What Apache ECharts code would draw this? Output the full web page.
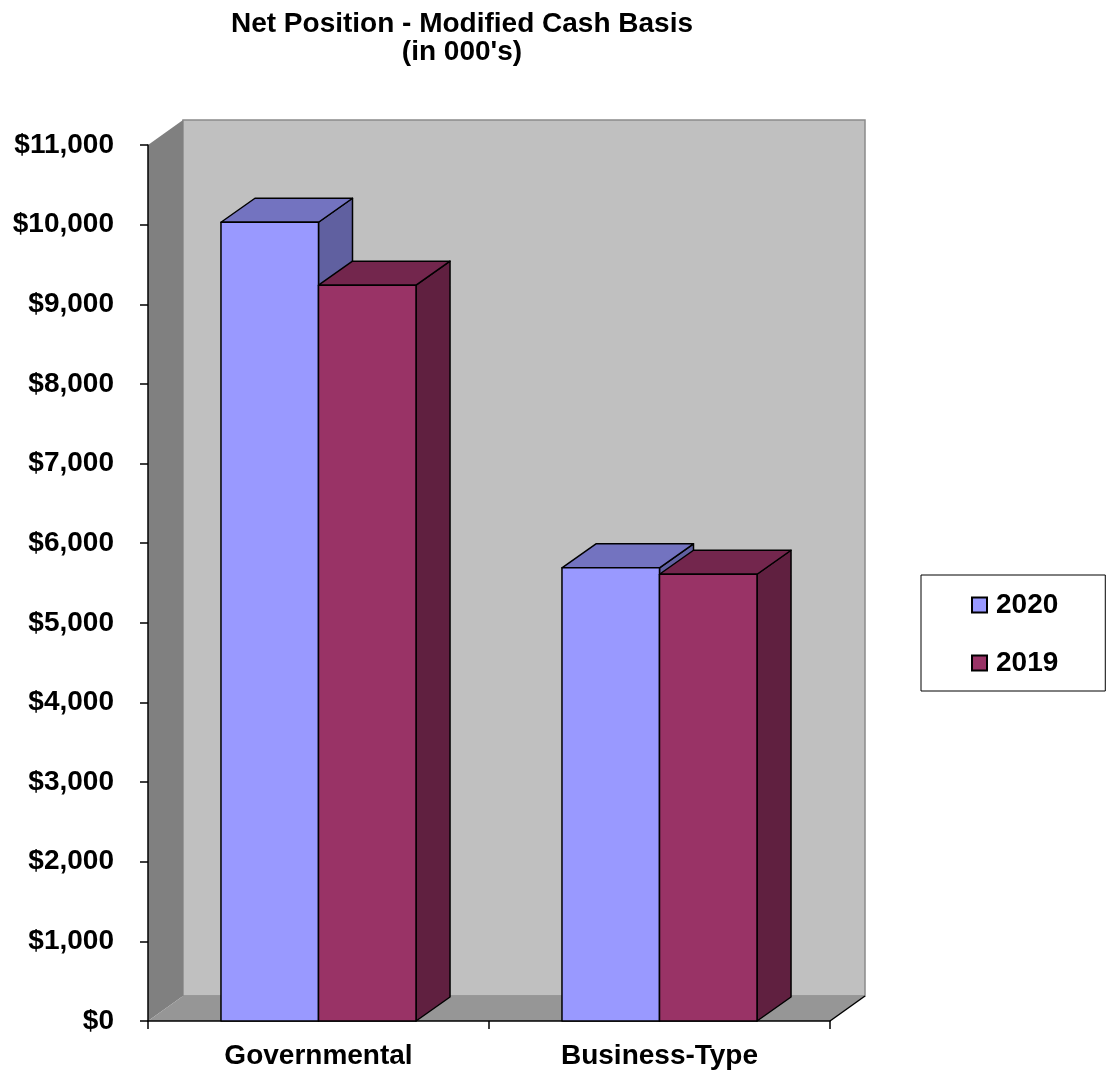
<!DOCTYPE html>
<html>
<head>
<meta charset="utf-8">
<script src="https://cdn.jsdelivr.net/npm/echarts@6/dist/echarts.min.js"></script>
<style>
html,body{margin:0;padding:0;background:#fff;}
#chart{width:1107px;height:1072px;}
</style>
</head>
<body>
<div id="chart"></div>
<script>
var categories = ['Governmental', 'Business-Type'];
var values2020 = [10030, 5690];
var values2019 = [9240, 5610];
var seriesNames = ['2020', '2019'];
var yTickLabels = ['$0','$1,000','$2,000','$3,000','$4,000','$5,000','$6,000','$7,000','$8,000','$9,000','$10,000','$11,000'];

var FONT = '"Liberation Sans", Arial, sans-serif';
var WALL_DX = 35, WALL_DY = -25;
var BAR_DX = 34, BAR_DY = -24;
var BAR_RATIO = 0.286;

var colors = {
  '2020': {front: '#9999FF', top: '#7373C0', side: '#6060A0'},
  '2019': {front: '#993366', top: '#73264D', side: '#602040'}
};

function makeBarRender(slot, c) {
  return function (params, api) {
    var cat = api.value(0), val = api.value(1);
    var t = api.coord([cat, val]);
    var b = api.coord([cat, 0]);
    var bw = api.size([1, 0])[0] * BAR_RATIO;
    var x0 = t[0] + (slot - 1) * bw;
    var x1 = x0 + bw;
    var yt = t[1], yb = b[1];
    var st = {stroke: '#000', lineWidth: 1.5, lineJoin: 'round'};
    return {
      type: 'group',
      children: [
        {type: 'polygon', shape: {points: [[x1, yt], [x1 + BAR_DX, yt + BAR_DY], [x1 + BAR_DX, yb + BAR_DY], [x1, yb]]},
          style: Object.assign({fill: c.side}, st)},
        {type: 'polygon', shape: {points: [[x0, yt], [x0 + BAR_DX, yt + BAR_DY], [x1 + BAR_DX, yt + BAR_DY], [x1, yt]]},
          style: Object.assign({fill: c.top}, st)},
        {type: 'rect', shape: {x: x0, y: yt, width: bw, height: yb - yt},
          style: Object.assign({fill: c.front}, st)}
      ]
    };
  };
}

function renderWalls(params, api) {
  var cs = params.coordSys;
  var L = cs.x, T = cs.y, R = cs.x + cs.width, B = cs.y + cs.height;
  return {
    type: 'group',
    children: [
      {type: 'polygon', shape: {points: [[L + WALL_DX, T + WALL_DY], [R + WALL_DX, T + WALL_DY], [R + WALL_DX, B + WALL_DY], [L + WALL_DX, B + WALL_DY]]},
        style: {fill: '#C0C0C0', stroke: '#8a8a8a', lineWidth: 1.5}},
      {type: 'polygon', shape: {points: [[L, T], [L + WALL_DX, T + WALL_DY], [L + WALL_DX, B + WALL_DY], [L, B]]},
        style: {fill: '#808080'}},
      {type: 'polygon', shape: {points: [[L, B], [L + WALL_DX, B + WALL_DY], [R + WALL_DX, B + WALL_DY], [R, B]]},
        style: {fill: '#969696'}},
      {type: 'polyline', shape: {points: [[R, B], [R + WALL_DX, B + WALL_DY]]},
        style: {stroke: '#000', lineWidth: 1.5}}
    ]
  };
}

var chart = echarts.init(document.getElementById('chart'), null, {renderer: 'canvas'});
chart.setOption({
  backgroundColor: '#ffffff',
  animation: false,
  textStyle: {fontFamily: FONT},
  graphic: [{
    type: 'text', x: 462, y: 10, z: 10,
    style: {
      text: 'Net Position - Modified Cash Basis\n(in 000\'s)',
      align: 'center', verticalAlign: 'top',
      font: 'bold 28px ' + FONT, lineHeight: 28, fill: '#000'
    }
  }],
  legend: {
    orient: 'vertical', left: 921, top: 575,
    padding: [16, 47, 14, 50], itemGap: 30,
    itemWidth: 15, itemHeight: 15, icon: 'rect',
    borderColor: '#000', borderWidth: 1, backgroundColor: '#fff',
    data: seriesNames,
    itemStyle: {borderColor: '#000', borderWidth: 2},
    textStyle: {fontSize: 28, fontWeight: 'bold', color: '#000', fontFamily: FONT, lineHeight: 28, padding: [0, 0, 0, 4]}
  },
  grid: {left: 148, top: 145, width: 682, height: 876, containLabel: false},
  xAxis: {
    type: 'category', data: categories, boundaryGap: true,
    axisLine: {lineStyle: {color: '#000', width: 1.5}},
    axisTick: {show: true, length: 8, interval: 0, lineStyle: {color: '#000', width: 1.5}},
    axisLabel: {fontSize: 28, fontWeight: 'bold', color: '#000', margin: 21, fontFamily: FONT},
    splitLine: {show: false}
  },
  yAxis: {
    type: 'value', min: 0, max: 11000, interval: 1000,
    axisLine: {show: true, lineStyle: {color: '#000', width: 1.5}},
    axisTick: {show: true, length: 8, lineStyle: {color: '#000', width: 1.5}},
    axisLabel: {fontSize: 28, fontWeight: 'bold', color: '#000', margin: 34, fontFamily: FONT,
      formatter: function (v) { return yTickLabels[Math.round(v / 1000)]; }},
    splitLine: {show: false}
  },
  series: [
    {type: 'custom', name: 'walls', z: -1, silent: true, clip: false,
      renderItem: renderWalls, data: [[0, 0]], encode: {x: 0, y: 1}},
    {type: 'custom', name: '2020', z: 2, clip: false,
      itemStyle: {color: colors['2020'].front},
      renderItem: makeBarRender(0, colors['2020']),
      data: values2020.map(function (v, i) { return [i, v]; }), encode: {x: 0, y: 1}},
    {type: 'custom', name: '2019', z: 3, clip: false,
      itemStyle: {color: colors['2019'].front},
      renderItem: makeBarRender(1, colors['2019']),
      data: values2019.map(function (v, i) { return [i, v]; }), encode: {x: 0, y: 1}}
  ]
});
</script>
</body>
</html>
